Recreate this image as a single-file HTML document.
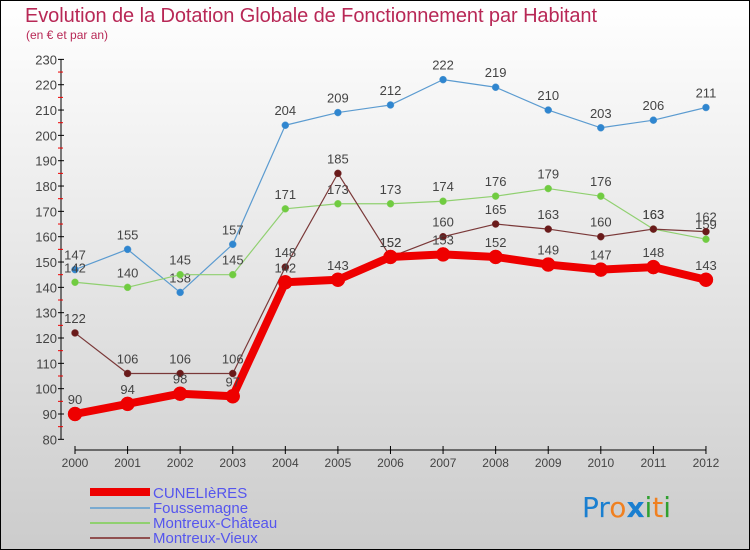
<!DOCTYPE html>
<html><head><meta charset="utf-8"><style>
body{margin:0;}
svg{display:block;font-family:"Liberation Sans","DejaVu Sans",sans-serif;}
</style></head><body>
<svg id="chart" width="750" height="550" xmlns="http://www.w3.org/2000/svg">
<defs><linearGradient id="bg" x1="0" y1="0" x2="0" y2="1"><stop offset="0" stop-color="#ffffff"/><stop offset="1" stop-color="#cccccc"/></linearGradient></defs>
<rect x="0.5" y="0.5" width="749" height="549" fill="url(#bg)" stroke="#000"/>
<text x="25" y="22" font-size="20" fill="#b82856" textLength="572">Evolution de la Dotation Globale de Fonctionnement par Habitant</text>
<text x="26" y="39" font-size="12" fill="#b82856">(en € et par an)</text>
<g id="axes"></g><g id="series"></g>
<g font-size="15" fill="#5555ee">
<rect x="90" y="488" width="60" height="8" fill="#e00"/><text x="153" y="498" fill="#5555ee">CUNELIèRES</text>
<line x1="90" y1="508" x2="150" y2="508" stroke="#7aaad0" stroke-width="2"/><text x="153" y="513" fill="#5555ee">Foussemagne</text>
<line x1="90" y1="523" x2="150" y2="523" stroke="#90d070" stroke-width="2"/><text x="153" y="528" fill="#5555ee">Montreux-Château</text>
<line x1="90" y1="538" x2="150" y2="538" stroke="#905050" stroke-width="2"/><text x="153" y="543" fill="#5555ee">Montreux-Vieux</text>
</g>
<g font-size="28" font-family="'DejaVu Sans',sans-serif">
<text x="582" y="517"><tspan fill="#1a7fd0">Pr</tspan><tspan fill="#f08020">o</tspan><tspan fill="#1a7fd0" font-weight="bold">x</tspan><tspan fill="#30a030">i</tspan><tspan fill="#f08020">t</tspan><tspan fill="#30a030">i</tspan></text>
</g>
</svg>
<script>
const years=[2000,2001,2002,2003,2004,2005,2006,2007,2008,2009,2010,2011,2012];
const cunelieres=[90,94,98,97,142,143,152,153,152,149,147,148,143];
const foussemagne=[147,155,138,157,204,209,212,222,219,210,203,206,211];
const montreuxChateau=[142,140,145,145,171,173,173,174,176,179,176,163,159];
const montreuxVieux=[122,106,106,106,148,185,152,160,165,163,160,163,162];
const yTicks=[80,90,100,110,120,130,140,150,160,170,180,190,200,210,220,230];
const NS="http://www.w3.org/2000/svg";
const X=i=>75+i*52.58, Y=v=>414-(v-90)*2.533;
function mk(t,a,p){const e=document.createElementNS(NS,t);for(const k in a)e.setAttribute(k,a[k]);p.appendChild(e);return e;}
const ax=document.getElementById('axes');
const yl=mk('line',{x1:61,y1:Y(230),x2:61,y2:Y(80),stroke:'#000'},ax);


yTicks.forEach(v=>{
  mk('line',{x1:58,y1:Y(v),x2:64,y2:Y(v),stroke:'#000'},ax);
  if(v<230)mk('line',{x1:58,y1:Y(v+5),x2:63,y2:Y(v+5),stroke:'#e00'},ax);
  const t=mk('text',{x:57,y:Y(v)+5,'font-size':13,fill:'#444','text-anchor':'end'},ax);t.textContent=v;
  
  
});
const xl=mk('line',{x1:X(0),y1:450,x2:X(12),y2:450,stroke:'#000'},ax);


years.forEach((y,i)=>{
  mk('line',{x1:X(i),y1:446,x2:X(i),y2:454,stroke:'#000'},ax);
  const t=mk('text',{x:X(i),y:467,'font-size':12,fill:'#444','text-anchor':'middle'},ax);t.textContent=y;
  
  
});
const sg=document.getElementById('series');
function draw(data,name,color,dot,w,r){
  const g=mk('g',{},sg);
  
  
  mk('polyline',{points:data.map((v,i)=>X(i)+','+Y(v)).join(' '),fill:'none',stroke:color,'stroke-width':w,'stroke-linejoin':'round'},g);
  data.forEach((v,i)=>{
    const c=mk('circle',{cx:X(i),cy:Y(v),r:r,fill:dot,stroke:color,'stroke-width':0.5},g);
    
    
    const t=mk('text',{x:X(i),y:Y(v)-10,'font-size':13,fill:'#444','text-anchor':'middle'},g);t.textContent=v;
  });
}
draw(foussemagne,'series-foussemagne','#5b9bd0','#2f86d0',1.2,3.5);
draw(montreuxChateau,'series-montreux-chateau','#90d070','#70cc40',1.2,3.5);
draw(montreuxVieux,'series-montreux-vieux','#7a3838','#6a1a1a',1.2,3.5);
draw(cunelieres,'series-cunelieres','#ee0000','#ee0000',8,7);
</script>
</body></html>
